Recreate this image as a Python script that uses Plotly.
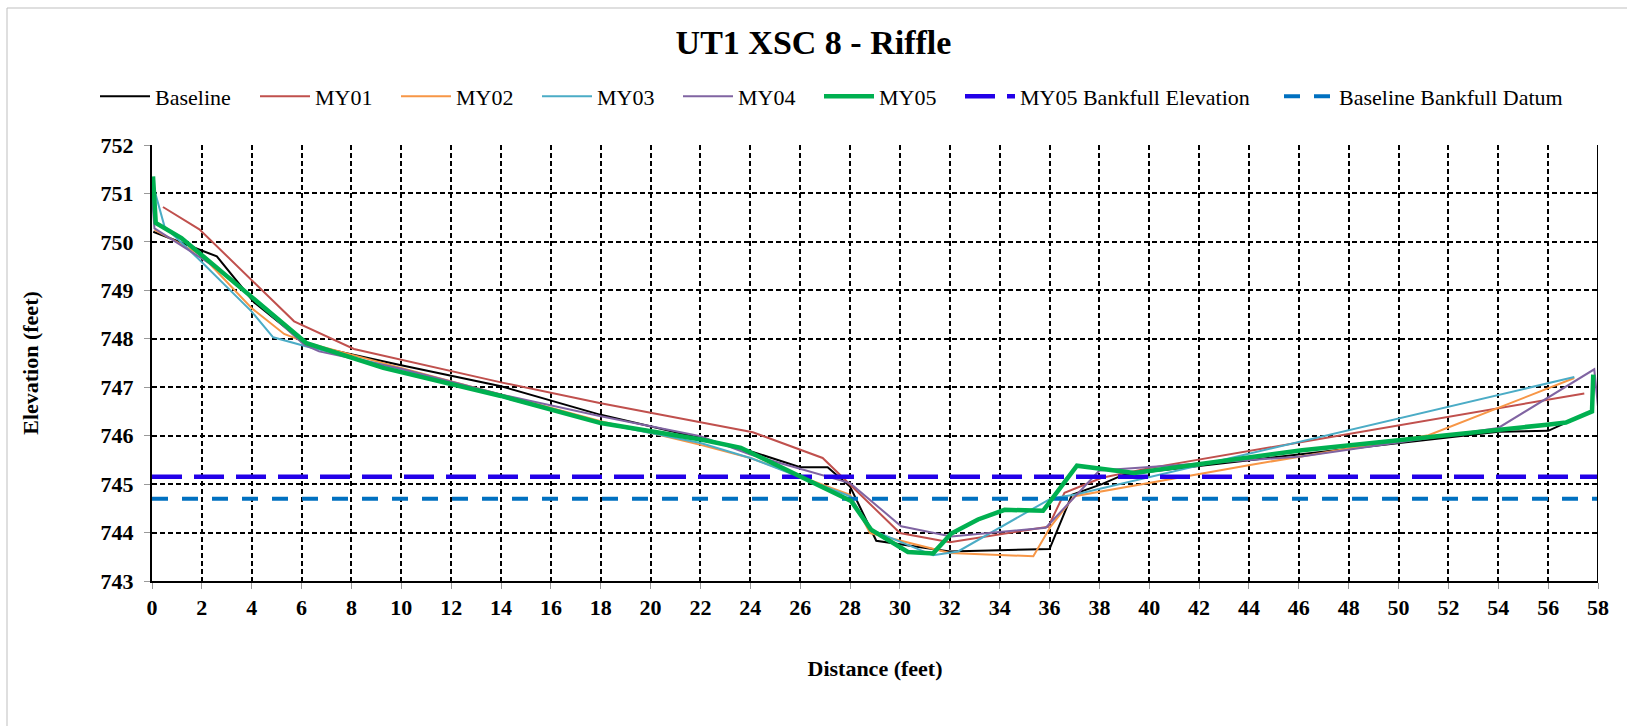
import plotly.graph_objects as go

# Survey data: station distance (ft) and ground elevation (ft)
baseline_x = [0.05, 2.6, 4.1, 5.7, 6.2, 9.95, 14.0, 18.0, 22.0, 24.0, 26.0, 27.1, 28.0, 29.05,
              32.0, 36.0, 36.9, 38.1, 39.0, 44.1, 54.0, 56.0, 56.5, 57.5]
baseline_y = [750.21, 749.70, 748.75, 748.08, 747.88, 747.46, 747.02, 746.43, 745.95, 745.68,
              745.35, 745.35, 744.95, 743.83, 743.61, 743.66, 744.78, 745.00, 745.20, 745.50,
              746.08, 746.10, 746.22, 746.45]

my01_x = [0.44, 1.9, 5.7, 8.1, 14.0, 18.0, 24.1, 26.9, 30.0, 32.0, 35.95, 36.6, 38.1, 40.0, 57.45]
my01_y = [750.72, 750.26, 748.36, 747.79, 747.10, 746.67, 746.07, 745.54, 743.99, 743.80,
          744.12, 744.82, 745.13, 745.33, 746.87]

my02_x = [0.1, 2.0, 4.0, 5.3, 6.2, 10.0, 14.0, 18.0, 22.0, 24.0, 28.0, 28.8, 32.0, 35.35,
          36.05, 37.0, 44.1, 51.2, 57.05]
my02_y = [750.25, 749.72, 748.63, 748.10, 747.92, 747.40, 746.85, 746.30, 745.81, 745.54,
          744.78, 743.99, 743.58, 743.51, 744.13, 744.75, 745.40, 746.01, 747.19]

my03_x = [0.04, 0.5, 1.9, 4.0, 4.86, 6.2, 10.0, 14.0, 18.0, 22.0, 24.0, 28.0, 28.84, 31.33,
          32.33, 36.08, 37.0, 57.05]
my03_y = [751.18, 750.32, 749.63, 748.56, 748.03, 747.84, 747.37, 746.80, 746.26, 745.85,
          745.54, 744.75, 744.06, 743.53, 743.61, 744.71, 744.78, 747.21]

my04_x = [0.0, 0.1, 2.6, 3.9, 6.1, 6.7, 10.0, 14.0, 18.0, 22.0, 24.0, 27.0, 28.0, 30.05,
          32.06, 35.85, 38.0, 46.1, 54.0, 57.85, 58.0]
my04_y = [750.95, 750.28, 749.46, 748.90, 747.88, 747.74, 747.38, 746.85, 746.40, 745.99,
          745.61, 745.16, 745.02, 744.13, 743.92, 744.10, 745.28, 745.57, 746.16, 747.37, 746.60]

my05_x = [0.04, 0.15, 1.18, 6.2, 9.28, 14.0, 18.0, 22.02, 23.62, 26.03, 28.04, 28.84, 30.32,
          31.33, 32.06, 33.13, 34.2, 35.74, 37.1, 39.4, 46.13, 56.04, 56.71, 57.76, 57.81]
my05_y = [751.35, 750.39, 750.08, 747.91, 747.40, 746.82, 746.26, 745.92, 745.75, 745.16,
          744.65, 744.06, 743.60, 743.57, 743.98, 744.27, 744.47, 744.45, 745.38, 745.23,
          745.70, 746.23, 746.27, 746.50, 747.26]

bankfull_x = [0, 58]
my05_bankfull_elev = 745.15
baseline_bankfull_datum = 744.70

x_ticks = list(range(0, 59, 2))
y_ticks = list(range(743, 753))

W, H = 1627, 726
ML, MR, MT, MB = 152, 29, 145, 145

serif = "Liberation Serif, Times New Roman, serif"

series = [
    ("Baseline", baseline_x, baseline_y, "#000000", 2, "solid"),
    ("MY01", my01_x, my01_y, "#C0504D", 2, "solid"),
    ("MY02", my02_x, my02_y, "#F79646", 2, "solid"),
    ("MY03", my03_x, my03_y, "#4BACC6", 2, "solid"),
    ("MY04", my04_x, my04_y, "#8064A2", 2, "solid"),
    ("MY05", my05_x, my05_y, "#00B050", 4.5, "solid"),
    ("MY05 Bankfull Elevation", bankfull_x, [my05_bankfull_elev] * 2, "#2200E8", 4.5, "30px,12px"),
    ("Baseline Bankfull Datum", bankfull_x, [baseline_bankfull_datum] * 2, "#0070C0", 4, "16px,14px"),
]

# left edge of each legend swatch, in page pixels
legend_left = [101, 261, 402, 543, 684, 825, 966, 1285]
legend_mid_y = 96.5

fig = go.Figure()
layout_legends = {}
draw_order = [0, 1, 2, 3, 4, 6, 7, 5]
for i in draw_order:
    name, xs, ys, color, width, dash = series[i]
    key = "legend" if i == 0 else f"legend{i + 1}"
    fig.add_trace(go.Scatter(
        x=xs, y=ys, name=name, mode="lines",
        line=dict(color=color, width=width, dash=dash),
        legend=key, showlegend=True,
    ))
    layout_legends[key] = dict(
        x=(legend_left[i] - 6) / W, xref="container", xanchor="left",
        y=1 - legend_mid_y / H, yref="container", yanchor="middle",
        orientation="h", itemwidth=50, bgcolor="rgba(0,0,0,0)",
        borderwidth=0, font=dict(family=serif, size=22, color="#000000"),
    )

pw = W - ML - MR
ph = H - MT - MB
fx = lambda px: (px - ML) / pw
fy = lambda py: (H - MB - py) / ph

shapes = [
    # right-hand plot boundary
    dict(type="line", xref="x", yref="y", x0=58, x1=58, y0=743, y1=752,
         line=dict(color="#000000", width=2)),
    # outer chart frame
    dict(type="line", xref="paper", yref="paper", x0=fx(7), x1=fx(7), y0=fy(8), y1=fy(H),
         line=dict(color="#BFBFBF", width=1)),
    dict(type="line", xref="paper", yref="paper", x0=fx(7), x1=fx(W), y0=fy(8), y1=fy(8),
         line=dict(color="#BFBFBF", width=1)),
]

fig.update_layout(
    width=W, height=H,
    showlegend=True,
    margin=dict(l=ML, r=MR, t=MT, b=MB, autoexpand=False),
    paper_bgcolor="#FFFFFF", plot_bgcolor="#FFFFFF",
    title=dict(text="<b>UT1 XSC 8 - Riffle</b>", x=0.5, xref="container", xanchor="center",
               y=1 - 42.5 / H, yref="container", yanchor="middle",
               font=dict(family=serif, size=34, color="#000000")),
    font=dict(family=serif, color="#000000"),
    shapes=shapes,
    xaxis=dict(
        range=[0, 58], tickmode="array", tickvals=x_ticks, ticktext=[str(v) for v in x_ticks],
        showgrid=True, gridcolor="#000000", gridwidth=2, griddash="5px,3px",
        zeroline=False, showline=True, linecolor="#000000", linewidth=2,
        ticks="outside", ticklen=6, tickcolor="#999999", tickwidth=1,
        ticklabelstandoff=0,
        tickfont=dict(family=serif, size=22, color="#000000", weight="bold"),
        title=dict(text="<b>Distance (feet)</b>", standoff=41,
                   font=dict(family=serif, size=22, color="#000000")),
        automargin=False,
    ),
    yaxis=dict(
        range=[743, 752], tickmode="array", tickvals=y_ticks, ticktext=[str(v) for v in y_ticks],
        showgrid=True, gridcolor="#000000", gridwidth=2, griddash="5px,3px",
        zeroline=False, showline=True, linecolor="#000000", linewidth=2,
        ticks="outside", ticklen=6, tickcolor="#999999", tickwidth=1,
        ticklabelstandoff=6,
        tickfont=dict(family=serif, size=22, color="#000000", weight="bold"),
        title=dict(text="<b>Elevation (feet)</b>", standoff=56,
                   font=dict(family=serif, size=22, color="#000000")),
        automargin=False,
    ),
    **layout_legends,
)

fig.write_html("out.html")
